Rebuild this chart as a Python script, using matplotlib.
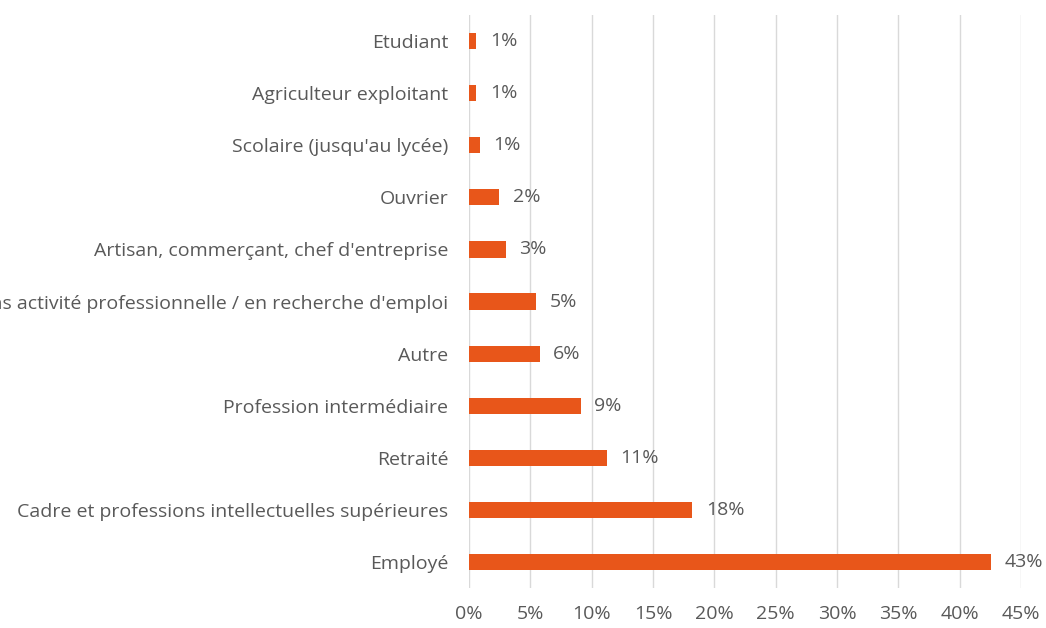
import matplotlib
matplotlib.use("Agg")
import matplotlib.pyplot as plt
from matplotlib.ticker import FuncFormatter

plt.rcParams["font.family"] = ["Open Sans", "DejaVu Sans"]

categories = [
    "Employé",
    "Cadre et professions intellectuelles supérieures",
    "Retraité",
    "Profession intermédiaire",
    "Autre",
    "Sans activité professionnelle / en recherche d'emploi",
    "Artisan, commerçant, chef d'entreprise",
    "Ouvrier",
    "Scolaire (jusqu'au lycée)",
    "Agriculteur exploitant",
    "Etudiant",
]
shares = [42.6, 18.2, 11.25, 9.1, 5.76, 5.46, 3.0, 2.45, 0.9, 0.6, 0.6]

bar_color = "#E8561A"
text_color = "#595959"
grid_color = "#D9D9D9"

figure, axes = plt.subplots(figsize=(10.46, 6.28), dpi=100)
figure.subplots_adjust(left=0.4484, right=0.976, top=0.976, bottom=0.0637)

positions = range(len(categories))
axes.barh(positions, shares, height=0.31, color=bar_color, zorder=3)

for pos, value in zip(positions, shares):
    axes.text(value + 1.1, pos, f"{value:.0f}%", va="center", ha="left",
              fontsize=14, color=text_color)

axes.set_yticks(list(positions))
axes.set_yticklabels(categories, fontsize=14, color=text_color)
axes.set_ylim(-0.5, len(categories) - 0.5)

axes.set_xlim(0, 45)
axes.set_xticks(range(0, 46, 5))
axes.xaxis.set_major_formatter(FuncFormatter(lambda v, _: f"{v:.0f}%"))
axes.tick_params(axis="x", labelsize=14, labelcolor=text_color, length=0, pad=12)
axes.tick_params(axis="y", length=0, pad=15)
axes.grid(axis="x", color=grid_color, linewidth=1, zorder=0)

for side in ["top", "right", "bottom", "left"]:
    axes.spines[side].set_visible(False)

figure.savefig("out.png", dpi=100)
plt.close(figure)
